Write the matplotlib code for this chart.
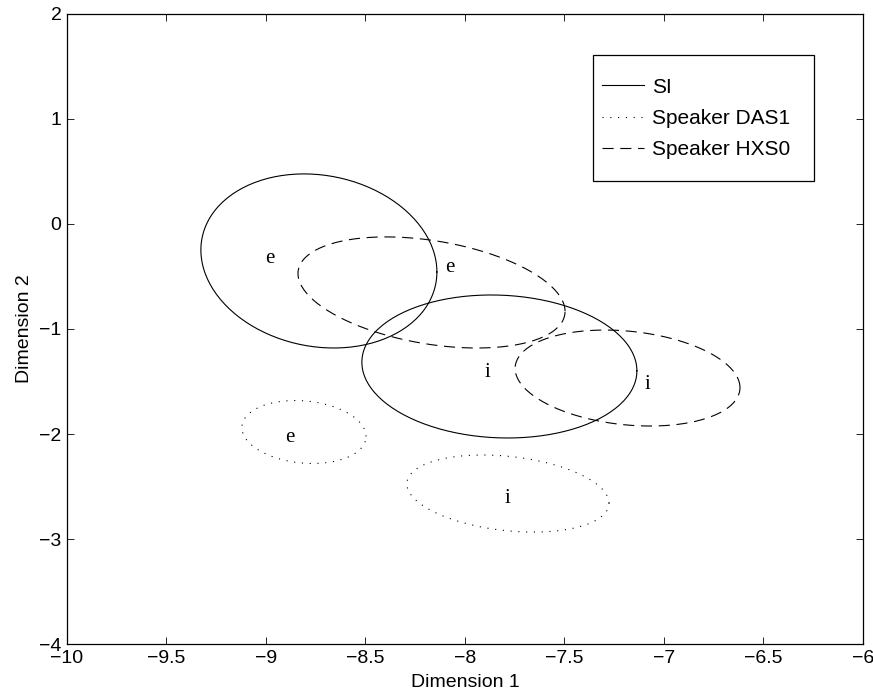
import numpy as np
import matplotlib
matplotlib.use("Agg")
import matplotlib.pyplot as plt
from matplotlib.patches import Rectangle

# ---- 数据：每个椭圆 = 中心, x/y 半轴, 相关系数 ----
groups = ["SI", "Speaker DAS1", "Speaker HXS0"]
vowels = ["e", "i"]

# 顺序: [e, i]
si_cx = [-8.734, -7.827]
si_cy = [-0.352, -1.357]
si_sx = [0.593, 0.691]
si_sy = [0.829, 0.681]
si_rho = [-0.126, -0.06]

das1_cx = [-8.809, -7.784]
das1_cy = [-1.981, -2.567]
das1_sx = [0.312, 0.508]
das1_sy = [0.300, 0.367]
das1_rho = [-0.14, -0.25]

hxs0_cx = [-8.168, -7.183]
hxs0_cy = [-0.652, -1.467]
hxs0_sx = [0.671, 0.565]
hxs0_sy = [0.529, 0.457]
hxs0_rho = [-0.34, -0.20]

# 元音标签位置
si_lx = [-8.980, -7.889]
si_ly = [-0.324, -1.419]
das1_lx = [-8.879, -7.784]
das1_ly = [-2.029, -2.610]
hxs0_lx = [-8.075, -7.085]
hxs0_ly = [-0.419, -1.524]


def ellipse_xy(cx, cy, sx, sy, rho, n=200):
    """按中心/半轴/相关系数生成椭圆轮廓点。"""
    t = np.linspace(0, 2 * np.pi, n)
    x = cx + sx * np.cos(t)
    y = cy + sy * (rho * np.cos(t) + np.sqrt(1 - rho ** 2) * np.sin(t))
    return x, y


plt.rcParams["font.family"] = ["Liberation Sans", "DejaVu Sans"]

fig = plt.figure(figsize=(8.73, 6.96), dpi=100)
ax = fig.add_axes([0.0767, 0.0747, 0.9118, 0.9052])

lw = 0.8
styles = {
    "SI": dict(linestyle="-"),
    "Speaker DAS1": dict(linestyle=(0, (1, 6))),
    "Speaker HXS0": dict(linestyle=(0, (10, 6))),
}
data = {
    "SI": (si_cx, si_cy, si_sx, si_sy, si_rho, si_lx, si_ly),
    "Speaker DAS1": (das1_cx, das1_cy, das1_sx, das1_sy, das1_rho, das1_lx, das1_ly),
    "Speaker HXS0": (hxs0_cx, hxs0_cy, hxs0_sx, hxs0_sy, hxs0_rho, hxs0_lx, hxs0_ly),
}

for g in groups:
    cx, cy, sx, sy, rho, lx, ly = data[g]
    for k, v in enumerate(vowels):
        x, y = ellipse_xy(cx[k], cy[k], sx[k], sy[k], rho[k])
        ax.plot(x, y, color="black", lw=lw, label=g if k == 0 else None,
                **styles[g])
        ax.text(lx[k], ly[k], v, ha="center", va="center", fontsize=15,
                family="Liberation Serif")

ax.set_xlim(-10, -6)
ax.set_ylim(-4, 2)
ax.set_xticks(np.arange(-10, -5.9, 0.5))
ax.set_xticklabels(["\u221210", "\u22129.5", "\u22129", "\u22128.5", "\u22128",
                    "\u22127.5", "\u22127", "\u22126.5", "\u22126"])
ax.set_yticks(np.arange(-4, 2.1, 1))
ax.tick_params(direction="in", length=5, width=0.6, top=True, right=True,
               labelsize=14, pad=4)
for s in ax.spines.values():
    s.set_linewidth(0.9)

ax.set_xlabel("Dimension 1", fontsize=14, labelpad=5)
ax.set_ylabel("Dimension 2", fontsize=14, labelpad=4)

# 图例：MATLAB 风格的方框，框单独画
leg = ax.legend(loc="upper left", bbox_to_anchor=(0.672, 0.899),
                fontsize=15, frameon=False, borderpad=0,
                handlelength=2.0, handletextpad=0.4, labelspacing=0.59,
                borderaxespad=0)
ax.add_patch(Rectangle((0.661, 0.735), 0.278, 0.200, transform=ax.transAxes,
                       fill=False, edgecolor="black", lw=0.9, zorder=5))

fig.savefig("out.png", dpi=100)
